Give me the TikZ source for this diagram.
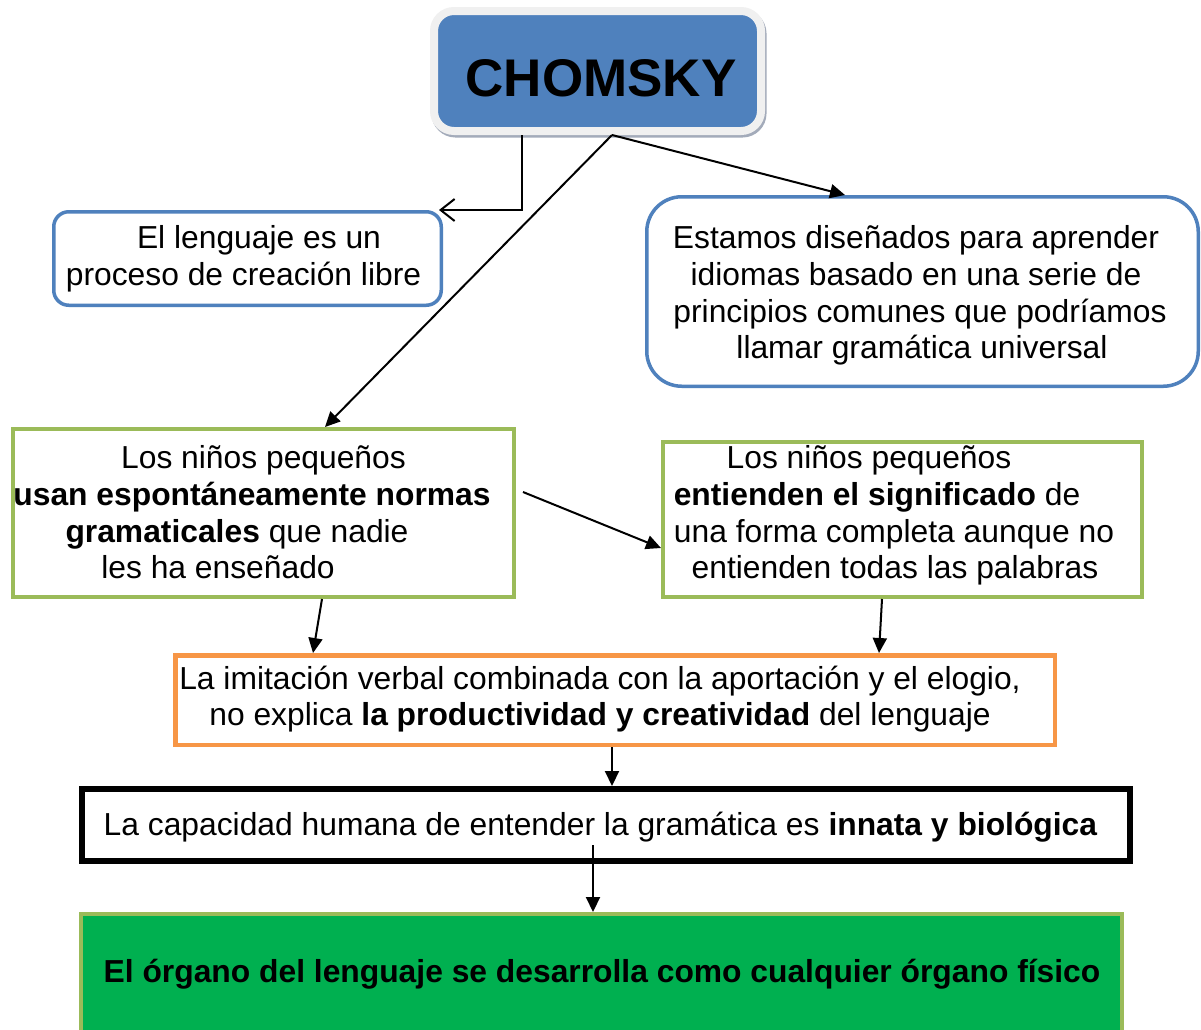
\documentclass[tikz,border=0pt]{standalone}
\usepackage{fontspec}
\setmainfont{Liberation Sans}
\usetikzlibrary{arrows.meta,shadows}
\definecolor{cblue}{HTML}{4F81BD}
\definecolor{cgreen}{HTML}{9BBB59}
\definecolor{corange}{HTML}{F79646}
\definecolor{cfill}{HTML}{00B050}
\definecolor{cshadow}{HTML}{A3ABBA}
\begin{document}
\begin{tikzpicture}[x=1pt,y=-1pt,
  box/.style={draw, rectangle, inner sep=0pt, fill=white},
  txt/.style={inner sep=0pt, align=center, font=\fontsize{31.8}{36.7}\selectfont},
  arr/.style={line width=2pt, -{Triangle[length=15pt,width=14pt]}},
  chom/.style={rectangle, rounded corners=20pt, fill=cblue, draw=black!6, line width=8pt,
    minimum width=327pt, minimum height=120pt, inner sep=0pt,
    font=\fontsize{53}{60}\selectfont\bfseries, text height=50pt, text depth=0pt,
    preaction={draw=cshadow, line width=8pt, transform canvas={xshift=1.5pt,yshift=-2.5pt}}},
]
\clip (0,0) rectangle (1201,1029);
\fill[white] (0,0) rectangle (1201,1029);

% boxes
\node[chom] (chomsky) at (597.5,71) {\hspace*{7pt}CHOMSKY};
\node[box, draw=cblue, line width=3.5pt, rounded corners=15pt, minimum width=387.5pt, minimum height=93.5pt] (b1) at (247.5,258.5) {};
\node[box, draw=cblue, line width=3.5pt, rounded corners=35pt, minimum width=551.5pt, minimum height=189.5pt] (b2) at (922.5,291.5) {};
\node[box, draw=cgreen, line width=4pt, minimum width=501pt, minimum height=168pt] (b3) at (263.5,513) {};
\node[box, draw=cgreen, line width=4pt, minimum width=479pt, minimum height=155pt] (b4) at (902.5,519.5) {};
\node[box, draw=corange, line width=4.5pt, minimum width=879.5pt, minimum height=89.5pt] (o) at (615,700) {};
\node[box, draw=black, line width=6pt, minimum width=1048pt, minimum height=72pt] (k) at (606,825) {};
\node[box, draw=cgreen, fill=cfill, line width=4pt, minimum width=1041pt, minimum height=129pt] (g) at (601.5,978.5) {};

% texts
\node[txt] (t1) at (251,259.5) {\hspace*{16pt}El lenguaje es un\strut\\ \hspace*{-15pt}proceso de creación libre\strut};
\node[txt] (t2) at (918,296.5) {\hspace*{-4pt}Estamos diseñados para aprender\strut\\ \hspace*{-4pt}idiomas basado en una serie de\\ \hspace*{4pt}principios comunes que podríamos\\ \hspace*{8pt}llamar gramática universal\strut};
\node[txt] (t3) at (263.5,516.5) {Los niños pequeños\strut\\ \hspace*{-23pt}\textbf{usan espontáneamente normas}\\ \hspace*{-53pt}\textbf{gramaticales} que nadie\\ \hspace*{-91pt}les ha enseñado\strut};
\node[txt] (t4) at (884,516.5) {\hspace*{-30pt}Los niños pequeños\strut\\ \hspace*{-14pt}\textbf{entienden el significado} de\\ \hspace*{20pt}una forma completa aunque no\\ \hspace*{22pt}entienden todas las palabras\strut};
\node[txt] (t5) at (600,700) {La imitación verbal combinada con la aportación y el elogio,\strut\\ no explica \textbf{la productividad y creatividad} del lenguaje\strut};
\node[txt] (t6) at (600.5,828.5) {\strut La capacidad humana de entender la gramática es \textbf{innata y biológica}};
\node[txt] (t7) at (602,975.5) {\strut\textbf{El órgano del lenguaje se desarrolla como cualquier órgano físico}};

% connectors
\draw[line width=2pt, -{Straight Barb[length=14pt,width=22pt]}] ([xshift=-75.5pt]chomsky.south) |- ([xshift=-4pt]b1.north east);
\draw[arr] ([xshift=14.5pt]chomsky.south) -- ([xshift=61.5pt]b3.north);
\draw[arr] ([xshift=14.5pt]chomsky.south) -- ([xshift=-77.5pt]b2.north);
\draw[arr] ([xshift=7pt,yshift=21pt]b3.east) -- ([yshift=-28.5pt]b4.west);
\draw[arr] ([xshift=58.5pt]b3.south) -- ([xshift=-302pt]o.north);
\draw[arr] ([xshift=-20.5pt]b4.south) -- ([xshift=264pt]o.north);
\draw[arr] ([xshift=-3pt]o.south) -- ([xshift=6pt]k.north);
\draw[arr] ([xshift=-13pt,yshift=-20pt]k.center) -- ([xshift=-8.5pt]g.north);
\end{tikzpicture}
\end{document}
